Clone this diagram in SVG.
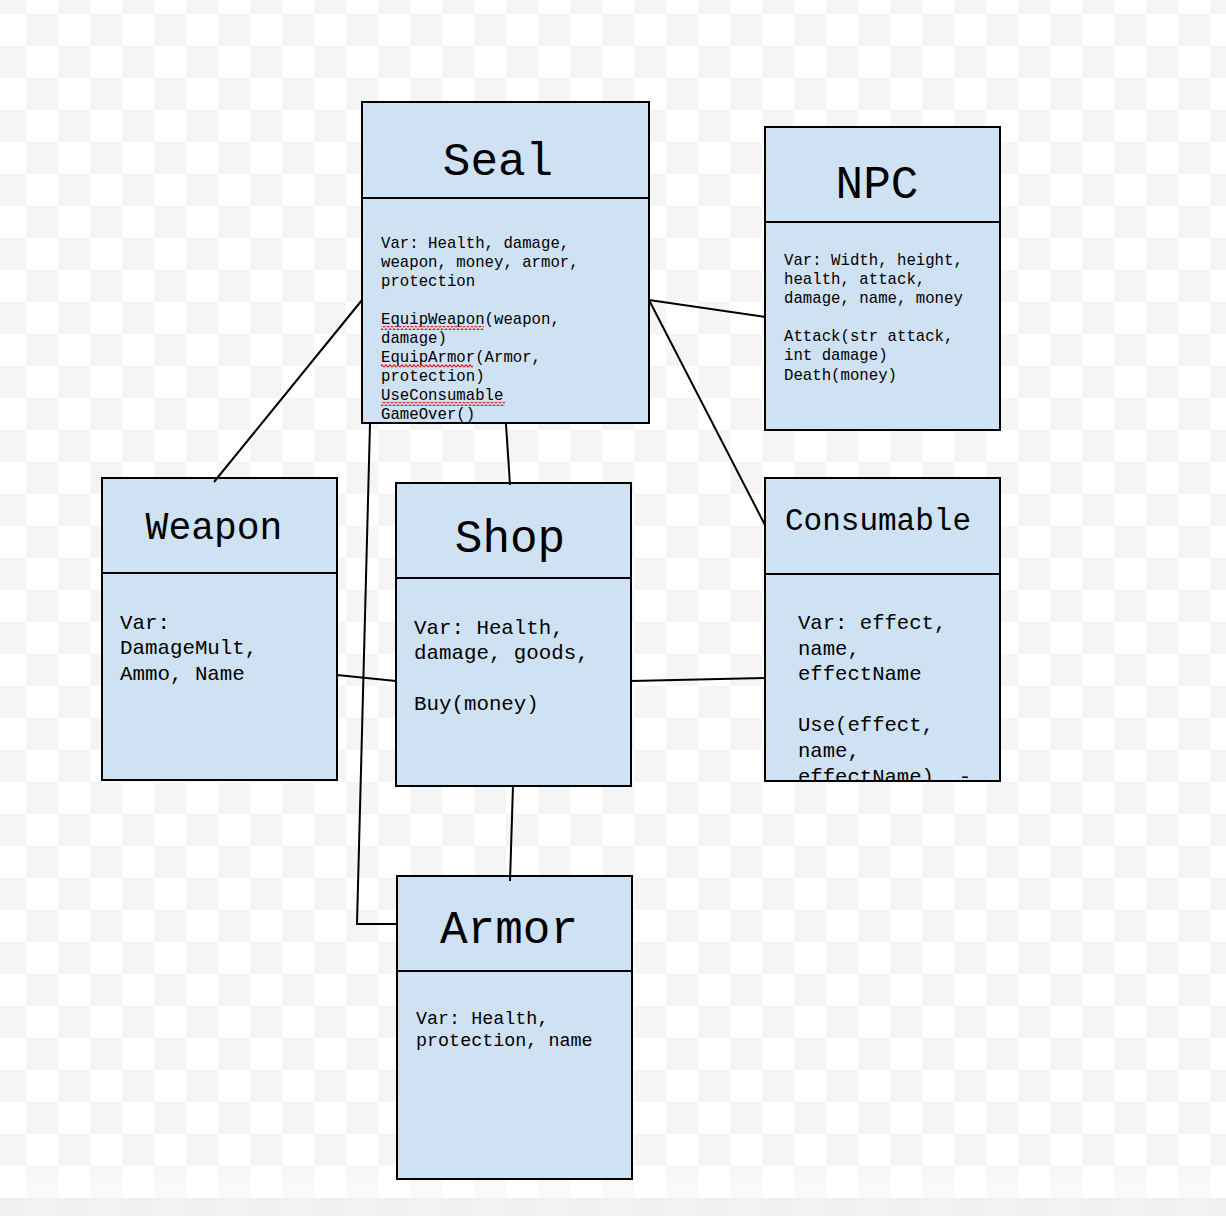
<svg xmlns="http://www.w3.org/2000/svg" width="1226" height="1216" viewBox="0 0 1226 1216">
  <defs>
    <pattern id="checker" patternUnits="userSpaceOnUse" x="26" y="14" width="64" height="64">
      <rect x="0" y="0" width="64" height="64" fill="#ffffff"/>
      <rect x="0" y="0" width="32" height="32" fill="#f5f5f5"/>
      <rect x="32" y="32" width="32" height="32" fill="#f5f5f5"/>
    </pattern>
    <pattern id="squiggle" patternUnits="userSpaceOnUse" x="0" y="0" width="4" height="4">
      <path d="M0,3.2 L2,0.8 L4,3.2" fill="none" stroke="#e02020" stroke-width="1.1"/>
    </pattern>
    <linearGradient id="fade" x1="0" y1="0" x2="0" y2="1">
      <stop offset="0" stop-color="#ffffff" stop-opacity="0"/>
      <stop offset="1" stop-color="#ffffff" stop-opacity="0.6"/>
    </linearGradient>
    <clipPath id="consClip">
      <rect x="765" y="574" width="235" height="207"/>
    </clipPath>
  </defs>
  <style>
    .box { fill: #cfe2f3; stroke: #000000; stroke-width: 2; }
    .div { stroke: #000000; stroke-width: 2; fill: none; }
    .title { font-family: "Liberation Mono", "DejaVu Sans Mono", monospace; fill: #000000; }
    .body { font-family: "Liberation Mono", "DejaVu Sans Mono", monospace; fill: #000000; }
    .conn { stroke: #000000; stroke-width: 2; fill: none; }
  </style>

  <rect x="0" y="0" width="1226" height="1216" fill="url(#checker)"/>
  <rect x="0" y="1160" width="1226" height="38" fill="url(#fade)"/>
  <rect x="0" y="1198" width="1226" height="18" fill="#efefef" opacity="0.8"/>

  <g id="seal">
    <rect class="box" x="362" y="102" width="287" height="321"/>
    <line class="div" x1="362" y1="198" x2="649" y2="198"/>
    <text class="title" x="498" y="175" font-size="46" text-anchor="middle">Seal</text>
    <g class="body" font-size="15.7">
      <text x="381" y="248">Var: Health, damage,</text>
      <text x="381" y="267">weapon, money, armor,</text>
      <text x="381" y="286">protection</text>
      <text x="381" y="324">EquipWeapon(weapon,</text>
      <text x="381" y="343">damage)</text>
      <text x="381" y="362">EquipArmor(Armor,</text>
      <text x="381" y="381">protection)</text>
      <text x="381" y="400">UseConsumable</text>
      <text x="381" y="419">GameOver()</text>
    </g>
    <rect x="381" y="326" width="103" height="4" fill="url(#squiggle)"/>
    <rect x="381" y="364" width="92" height="4" fill="url(#squiggle)"/>
    <rect x="381" y="402" width="124" height="4" fill="url(#squiggle)"/>
  </g>

  <g id="npc">
    <rect class="box" x="765" y="127" width="235" height="303"/>
    <line class="div" x1="765" y1="222" x2="1000" y2="222"/>
    <text class="title" x="877" y="198" font-size="46" text-anchor="middle">NPC</text>
    <g class="body" font-size="15.7">
      <text x="784" y="265">Var: Width, height,</text>
      <text x="784" y="284">health, attack,</text>
      <text x="784" y="303">damage, name, money</text>
      <text x="784" y="341">Attack(str attack,</text>
      <text x="784" y="360">int damage)</text>
      <text x="784" y="380">Death(money)</text>
    </g>
  </g>

  <g id="weapon">
    <rect class="box" x="102" y="478" width="235" height="302"/>
    <line class="div" x1="102" y1="573" x2="337" y2="573"/>
    <text class="title" x="214" y="539" font-size="38" text-anchor="middle">Weapon</text>
    <g class="body" font-size="20.8">
      <text x="120" y="629">Var:</text>
      <text x="120" y="654">DamageMult,</text>
      <text x="120" y="680">Ammo, Name</text>
    </g>
  </g>

  <g id="shop">
    <rect class="box" x="396" y="483" width="235" height="303"/>
    <line class="div" x1="396" y1="578" x2="631" y2="578"/>
    <text class="title" x="510" y="552" font-size="46" text-anchor="middle">Shop</text>
    <g class="body" font-size="20.8">
      <text x="414" y="634">Var: Health,</text>
      <text x="414" y="659">damage, goods,</text>
      <text x="414" y="710">Buy(money)</text>
    </g>
  </g>

  <g id="consumable">
    <rect class="box" x="765" y="478" width="235" height="303"/>
    <line class="div" x1="765" y1="574" x2="1000" y2="574"/>
    <text class="title" x="785" y="530" font-size="31">Consumable</text>
    <g class="body" font-size="20.6" clip-path="url(#consClip)">
      <text x="798" y="629">Var: effect,</text>
      <text x="798" y="654.5">name,</text>
      <text x="798" y="680">effectName</text>
      <text x="798" y="731">Use(effect,</text>
      <text x="798" y="756.5">name,</text>
      <text x="798" y="783" xml:space="preserve">effectName)  -</text>
    </g>
    <rect x="765" y="478" width="235" height="303" fill="none" stroke="#000" stroke-width="2"/>
  </g>

  <g id="armor">
    <rect class="box" x="397" y="876" width="235" height="303"/>
    <line class="div" x1="397" y1="971" x2="632" y2="971"/>
    <text class="title" x="509" y="943" font-size="46" text-anchor="middle">Armor</text>
    <g class="body" font-size="18.4">
      <text x="416" y="1024">Var: Health,</text>
      <text x="416" y="1046">protection, name</text>
    </g>
  </g>

  <g id="connectors">
    <line class="conn" x1="362" y1="300" x2="214" y2="482"/>
    <line class="conn" x1="506" y1="424" x2="510" y2="485"/>
    <line class="conn" x1="649" y1="300" x2="765" y2="317"/>
    <line class="conn" x1="649" y1="300" x2="765" y2="525"/>
    <polyline class="conn" points="370,424 357,924 397,924"/>
    <line class="conn" x1="337" y1="675" x2="396" y2="681"/>
    <line class="conn" x1="631" y1="681" x2="765" y2="678"/>
    <line class="conn" x1="513" y1="786" x2="510" y2="881"/>
  </g>
</svg>
